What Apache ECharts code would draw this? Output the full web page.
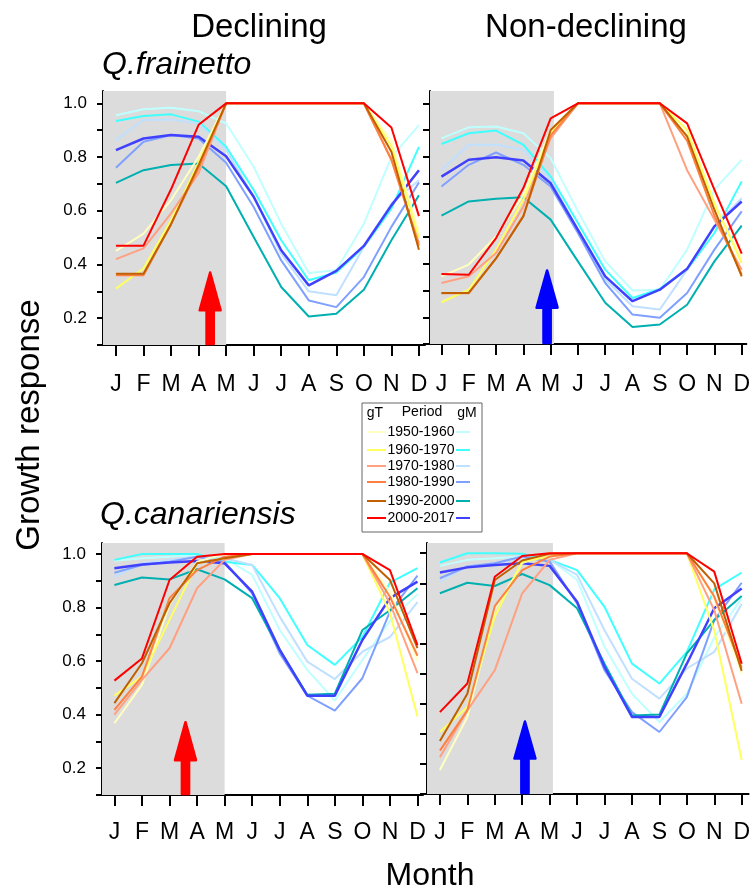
<!DOCTYPE html>
<html><head><meta charset="utf-8">
<script src="https://cdn.jsdelivr.net/npm/echarts@6/dist/echarts.min.js"></script>
<style>html,body{margin:0;padding:0;background:#fff}#c{width:753px;height:890px}</style>
</head><body><div id="c"></div>
<script>
// ---------- categories / ticks ----------
const months = ['J','F','M','A','M','J','J','A','S','O','N','D'];
const periods = ['1950-1960','1960-1970','1970-1980','1980-1990','1990-2000','2000-2017'];
const yTicks = [0.1,0.2,0.3,0.4,0.5,0.6,0.7,0.8,0.9,1.0];
const yTicksBR = [0.2,0.3,0.4,0.5,0.6,0.7,0.8,0.9,1.0];
const yLabels = [0.2,0.4,0.6,0.8,1.0];

// ---------- Q.frainetto, Declining ----------
const frDec_gT_1950 = [0.45,0.515,0.64,0.80,1.0,1.0,1.0,1.0,1.0,1.0,0.86,0.52];
const frDec_gT_1960 = [0.31,0.385,0.565,0.78,1.0,1.0,1.0,1.0,1.0,1.0,0.84,0.50];
const frDec_gT_1970 = [0.42,0.46,0.59,0.74,1.0,1.0,1.0,1.0,1.0,1.0,0.79,0.48];
const frDec_gT_1980 = [0.36,0.36,0.55,0.76,1.0,1.0,1.0,1.0,1.0,1.0,0.79,0.47];
const frDec_gT_1990 = [0.365,0.365,0.55,0.77,1.0,1.0,1.0,1.0,1.0,1.0,0.82,0.455];
const frDec_gT_2000 = [0.47,0.47,0.68,0.92,1.0,1.0,1.0,1.0,1.0,1.0,0.91,0.58];
const frDec_gM_1950 = [0.956,0.978,0.984,0.971,0.925,0.764,0.552,0.368,0.378,0.552,0.80,0.919];
const frDec_gM_1960 = [0.934,0.953,0.959,0.932,0.838,0.677,0.49,0.341,0.37,0.465,0.608,0.838];
const frDec_gM_1970 = [0.863,0.938,0.94,0.925,0.826,0.652,0.44,0.30,0.285,0.465,0.627,0.714];
const frDec_gM_1980 = [0.76,0.857,0.882,0.869,0.779,0.614,0.415,0.266,0.241,0.353,0.54,0.705];
const frDec_gM_1990 = [0.704,0.751,0.77,0.776,0.691,0.502,0.316,0.206,0.216,0.306,0.49,0.658];
const frDec_gM_2000 = [0.826,0.869,0.882,0.876,0.803,0.652,0.453,0.322,0.376,0.469,0.62,0.751];

// ---------- Q.frainetto, Non-declining ----------
const frNon_gT_1950 = [0.353,0.397,0.502,0.658,0.90,1.0,1.0,1.0,1.0,0.88,0.62,0.42];
const frNon_gT_1960 = [0.256,0.303,0.452,0.64,0.888,1.0,1.0,1.0,1.0,0.90,0.627,0.403];
const frNon_gT_1970 = [0.328,0.353,0.44,0.614,0.87,1.0,1.0,1.0,1.0,0.75,0.565,0.378];
const frNon_gT_1980 = [0.29,0.29,0.42,0.58,0.88,1.0,1.0,1.0,1.0,0.86,0.58,0.36];
const frNon_gT_1990 = [0.291,0.291,0.42,0.577,0.90,1.0,1.0,1.0,1.0,0.876,0.602,0.353];
const frNon_gT_2000 = [0.362,0.359,0.496,0.683,0.944,1.0,1.0,1.0,1.0,0.925,0.677,0.438];
const frNon_gM_1950 = [0.869,0.91,0.913,0.888,0.795,0.596,0.409,0.30,0.303,0.453,0.677,0.789];
const frNon_gM_1960 = [0.848,0.888,0.898,0.845,0.726,0.552,0.378,0.272,0.306,0.378,0.515,0.708];
const frNon_gM_1970 = [0.751,0.845,0.845,0.826,0.714,0.527,0.341,0.241,0.229,0.378,0.54,0.645];
const frNon_gM_1980 = [0.689,0.77,0.816,0.77,0.689,0.515,0.328,0.21,0.198,0.291,0.453,0.596];
const frNon_gM_1990 = [0.58,0.633,0.643,0.649,0.565,0.409,0.254,0.164,0.173,0.247,0.409,0.543];
const frNon_gM_2000 = [0.726,0.789,0.798,0.786,0.701,0.527,0.353,0.26,0.303,0.381,0.54,0.633];

// ---------- Q.canariensis, Declining ----------
const caDec_gT_1950 = [0.368,0.511,0.81,0.971,1.0,1.0,1.0,1.0,1.0,1.0,0.86,0.60];
const caDec_gT_1960 = [0.471,0.542,0.754,0.965,0.984,1.0,1.0,1.0,1.0,1.0,0.78,0.393];
const caDec_gT_1970 = [0.40,0.53,0.648,0.872,0.978,1.0,1.0,1.0,1.0,1.0,0.816,0.555];
const caDec_gT_1980 = [0.418,0.542,0.835,0.94,0.99,1.0,1.0,1.0,1.0,1.0,0.84,0.62];
const caDec_gT_1990 = [0.443,0.592,0.816,0.965,0.984,1.0,1.0,1.0,1.0,1.0,0.903,0.648];
const caDec_gT_2000 = [0.527,0.61,0.903,0.99,1.0,1.0,1.0,1.0,1.0,1.0,0.94,0.66];
const caDec_gM_1950 = [0.975,0.984,0.99,0.996,0.984,0.922,0.716,0.567,0.453,0.604,0.75,0.85];
const caDec_gM_1960 = [0.978,1.0,1.0,1.0,0.971,0.959,0.835,0.66,0.586,0.69,0.893,0.947];
const caDec_gM_1970 = [0.915,0.965,0.978,0.99,0.984,0.959,0.766,0.598,0.533,0.635,0.69,0.82];
const caDec_gM_1980 = [0.93,0.959,0.971,0.99,0.97,0.853,0.629,0.471,0.415,0.536,0.785,0.919];
const caDec_gM_1990 = [0.884,0.912,0.905,0.943,0.905,0.835,0.642,0.474,0.478,0.716,0.79,0.872];
const caDec_gM_2000 = [0.947,0.961,0.968,0.974,0.965,0.859,0.642,0.471,0.471,0.679,0.835,0.897];

// ---------- Q.canariensis, Non-declining ----------
const caNon_gT_1950 = [0.28,0.456,0.811,0.967,1.0,1.0,1.0,1.0,1.0,1.0,0.85,0.60];
const caNon_gT_1960 = [0.406,0.489,0.789,0.972,0.989,1.0,1.0,1.0,1.0,1.0,0.744,0.313];
const caNon_gT_1970 = [0.322,0.478,0.611,0.867,0.978,1.0,1.0,1.0,1.0,1.0,0.811,0.50];
const caNon_gT_1980 = [0.344,0.478,0.824,0.944,0.989,1.0,1.0,1.0,1.0,1.0,0.856,0.62];
const caNon_gT_1990 = [0.376,0.533,0.911,0.976,0.998,1.0,1.0,1.0,1.0,1.0,0.90,0.609];
const caNon_gT_2000 = [0.472,0.567,0.922,0.991,1.0,1.0,1.0,1.0,1.0,1.0,0.939,0.633];
const caNon_gM_1950 = [0.958,0.978,0.983,0.989,0.98,0.911,0.689,0.533,0.439,0.533,0.72,0.85];
const caNon_gM_1960 = [0.969,1.0,1.0,0.998,0.978,0.944,0.822,0.633,0.567,0.672,0.88,0.936];
const caNon_gM_1970 = [0.906,0.956,0.967,0.983,0.978,0.928,0.744,0.583,0.517,0.617,0.672,0.831];
const caNon_gM_1980 = [0.917,0.956,0.967,0.989,0.972,0.833,0.611,0.472,0.406,0.522,0.778,0.902];
const caNon_gM_1990 = [0.867,0.902,0.891,0.931,0.894,0.817,0.633,0.461,0.464,0.667,0.778,0.858];
const caNon_gM_2000 = [0.936,0.953,0.961,0.967,0.958,0.839,0.622,0.456,0.456,0.633,0.817,0.883];

// ---------- arrows: [month position, tip value, head-base value] ----------
const arrowFrDec = [3.42, 0.37, 0.229];
const arrowFrNon = [3.87, 0.375, 0.236];
const arrowCaDec = [2.58, 0.372, 0.23];
const arrowCaNon = [3.10, 0.441, 0.318];
// end of shaded "early season" window (month position)
const shadeEnd = [4.0, 4.12, 4.0, 4.12];

// ---------- styles ----------
const gTColors = ['#FFFFC0','#FFFF60','#FFA080','#FF8040','#C06000','#FF0000'];
const gMColors = ['#C0FFFF','#40FFFF','#C0E0FF','#80A0FF','#00B0B0','#4040FF'];
const FONT = '"Liberation Sans", Arial, Helvetica, sans-serif';

const panels = [
  {grid:{left:103, top:91, width:322, height:254}, xMin:-0.47, xMax:11.22, yMin:0.1, yMax:1.046, ticks:yTicks, labels:true,
   gT:[frDec_gT_1950,frDec_gT_1960,frDec_gT_1970,frDec_gT_1980,frDec_gT_1990,frDec_gT_2000],
   gM:[frDec_gM_1950,frDec_gM_1960,frDec_gM_1970,frDec_gM_1980,frDec_gM_1990,frDec_gM_2000],
   arrow:arrowFrDec, arrowColor:'#FF0000', shade:shadeEnd[0], lblMargin:28},
  {grid:{left:430, top:91, width:320, height:253}, xMin:-0.42, xMax:11.17, yMin:0.1, yMax:1.046, ticks:yTicks, labels:false,
   gT:[frNon_gT_1950,frNon_gT_1960,frNon_gT_1970,frNon_gT_1980,frNon_gT_1990,frNon_gT_2000],
   gM:[frNon_gM_1950,frNon_gM_1960,frNon_gM_1970,frNon_gM_1980,frNon_gM_1990,frNon_gM_2000],
   arrow:arrowFrNon, arrowColor:'#0000FF', shade:shadeEnd[1], lblMargin:29},
  {grid:{left:102, top:543, width:321, height:252}, xMin:-0.45, xMax:11.2, yMin:0.1, yMax:1.041, ticks:yTicks, labels:true,
   gT:[caDec_gT_1950,caDec_gT_1960,caDec_gT_1970,caDec_gT_1980,caDec_gT_1990,caDec_gT_2000],
   gM:[caDec_gM_1950,caDec_gM_1960,caDec_gM_1970,caDec_gM_1980,caDec_gM_1990,caDec_gM_2000],
   arrow:arrowCaDec, arrowColor:'#FF0000', shade:shadeEnd[2], lblMargin:26},
  {grid:{left:427, top:543, width:323, height:251}, xMin:-0.47, xMax:11.25, yMin:0.2, yMax:1.034, ticks:yTicksBR, labels:false,
   gT:[caNon_gT_1950,caNon_gT_1960,caNon_gT_1970,caNon_gT_1980,caNon_gT_1990,caNon_gT_2000],
   gM:[caNon_gM_1950,caNon_gM_1960,caNon_gM_1970,caNon_gM_1980,caNon_gM_1990,caNon_gM_2000],
   arrow:arrowCaNon, arrowColor:'#0000FF', shade:shadeEnd[3], lblMargin:27}
];

const grids = [], xAxes = [], yAxes = [], series = [];
const monthIdx = months.map((m,i)=>i);

panels.forEach((p, gi) => {
  grids.push(p.grid);
  xAxes.push({
    type:'value', gridIndex:gi, min:p.xMin, max:p.xMax, position:'bottom',
    axisLine:{show:true, onZero:false, lineStyle:{color:'#000', width:2}},
    axisTick:{show:true, inside:false, length:11, lineStyle:{color:'#000', width:2}, customValues:monthIdx},
    axisLabel:{show:true, customValues:monthIdx, formatter:v=>months[Math.round(v)], color:'#000',
               fontFamily:FONT, fontSize:23, margin:p.lblMargin},
    splitLine:{show:false}
  });
  const yIdx = yAxes.length;
  if (p.labels) {
    yAxes.push({
      type:'value', gridIndex:gi, min:p.yMin, max:p.yMax, position:'left',
      axisLine:{show:true, onZero:false, lineStyle:{color:'#000', width:2}},
      axisTick:{show:true, inside:false, length:6, lineStyle:{color:'#000', width:2}, customValues:p.ticks},
      axisLabel:{show:true, customValues:yLabels, formatter:v=>v.toFixed(1), color:'#000',
                 fontFamily:FONT, fontSize:17, margin:16},
      splitLine:{show:false}
    });
  } else {
    yAxes.push({
      type:'value', gridIndex:gi, min:p.yMin, max:p.yMax, position:'left',
      axisLine:{show:true, onZero:false, lineStyle:{color:'#000', width:2}},
      axisTick:{show:true, inside:true, length:5, lineStyle:{color:'#000', width:2}, customValues:p.ticks},
      axisLabel:{show:false}, splitLine:{show:false}
    });
    yAxes.push({
      type:'value', gridIndex:gi, min:p.yMin, max:p.yMax, position:'left', offset:0,
      axisLine:{show:false, onZero:false},
      axisTick:{show:true, inside:false, length:7, lineStyle:{color:'#000', width:2}, customValues:p.ticks},
      axisLabel:{show:false}, splitLine:{show:false}
    });
  }
  // shaded window
  series.push({
    type:'custom', xAxisIndex:gi, yAxisIndex:yIdx, z:1, silent:true,
    data:[[p.xMin, p.shade]],
    renderItem:(params, api) => {
      const a = api.coord([api.value(0), p.yMax]);
      const b = api.coord([api.value(1), p.yMin]);
      return {type:'rect', shape:{x:a[0], y:a[1], width:b[0]-a[0], height:b[1]-a[1]},
              style:{fill:'#DCDCDC'}};
    }
  });
  // gM lines then gT lines
  p.gM.forEach((arr, k) => {
    series.push({
      type:'line', name:'gM '+periods[k], xAxisIndex:gi, yAxisIndex:yIdx, z:3+k,
      data:arr.map((v,i)=>[i,v]), symbol:'none', silent:true,
      lineStyle:{color:gMColors[k], width:k===5?2.5:2}
    });
  });
  p.gT.forEach((arr, k) => {
    series.push({
      type:'line', name:'gT '+periods[k], xAxisIndex:gi, yAxisIndex:yIdx, z:10+k,
      data:arr.map((v,i)=>[i,v]), symbol:'none', silent:true,
      lineStyle:{color:gTColors[k], width:2}
    });
  });
  // arrow
  series.push({
    type:'custom', xAxisIndex:gi, yAxisIndex:yIdx, z:20, silent:true,
    data:[[p.arrow[0], p.arrow[1], p.arrow[2], p.yMin]],
    renderItem:(params, api) => {
      const tip = api.coord([api.value(0), api.value(1)]);
      const base = api.coord([api.value(0), api.value(2)]);
      const bot = api.coord([api.value(0), api.value(3)]);
      const x = tip[0], hw = 10.5, sw = 3.6;
      return {type:'polygon',
        shape:{points:[[x-hw, base[1]],[x, tip[1]],[x+hw, base[1]],[x+sw, base[1]],[x+sw, bot[1]-1],[x-sw, bot[1]-1],[x-sw, base[1]]]},
        style:{fill:p.arrowColor, stroke:p.arrowColor, lineWidth:2.5, lineJoin:'round'}};
    }
  });
});

// ---------- legend (graphic) ----------
const legendRowsY = [432, 450, 466, 482, 501, 518];
const legendGraphics = [
  {type:'rect', shape:{x:362, y:403, width:120, height:129}, style:{fill:'#fff', stroke:'#666', lineWidth:1}, z:50},
  {type:'text', x:375, y:413, style:{text:'gT', font:'14px '+FONT, fill:'#000', align:'center', verticalAlign:'middle'}, z:51},
  {type:'text', x:422, y:412, style:{text:'Period', font:'14px '+FONT, fill:'#000', align:'center', verticalAlign:'middle'}, z:51},
  {type:'text', x:467, y:413, style:{text:'gM', font:'14px '+FONT, fill:'#000', align:'center', verticalAlign:'middle'}, z:51}
];
periods.forEach((per, k) => {
  const y = legendRowsY[k];
  legendGraphics.push({type:'line', shape:{x1:367, y1:y, x2:386, y2:y}, style:{stroke:gTColors[k], lineWidth:2}, z:51});
  legendGraphics.push({type:'text', x:421, y:y, style:{text:per, font:'14px '+FONT, fill:'#000', align:'center', verticalAlign:'middle'}, z:51});
  legendGraphics.push({type:'line', shape:{x1:456, y1:y, x2:470, y2:y}, style:{stroke:gMColors[k], lineWidth:2}, z:51});
});

const texts = [
  {type:'text', x:259, y:28, style:{text:'Declining', font:'33px '+FONT, fill:'#000', align:'center', verticalAlign:'middle'}},
  {type:'text', x:586, y:28, style:{text:'Non-declining', font:'33px '+FONT, fill:'#000', align:'center', verticalAlign:'middle'}},
  {type:'text', x:102, y:65, style:{text:'Q.frainetto', font:'italic 32px '+FONT, fill:'#000', align:'left', verticalAlign:'middle'}},
  {type:'text', x:100, y:515, style:{text:'Q.canariensis', font:'italic 32px '+FONT, fill:'#000', align:'left', verticalAlign:'middle'}},
  {type:'text', x:30, y:425, rotation:Math.PI/2, style:{text:'Growth response', font:'33px '+FONT, fill:'#000', align:'center', verticalAlign:'middle'}},
  {type:'text', x:430, y:876, style:{text:'Month', font:'32px '+FONT, fill:'#000', align:'center', verticalAlign:'middle'}}
];

const chart = echarts.init(document.getElementById('c'), null, {renderer:'canvas'});
chart.setOption({
  backgroundColor:'#fff',
  animation:false,
  grid:grids, xAxis:xAxes, yAxis:yAxes, series:series,
  graphic:texts.concat(legendGraphics)
});
</script></body></html>
